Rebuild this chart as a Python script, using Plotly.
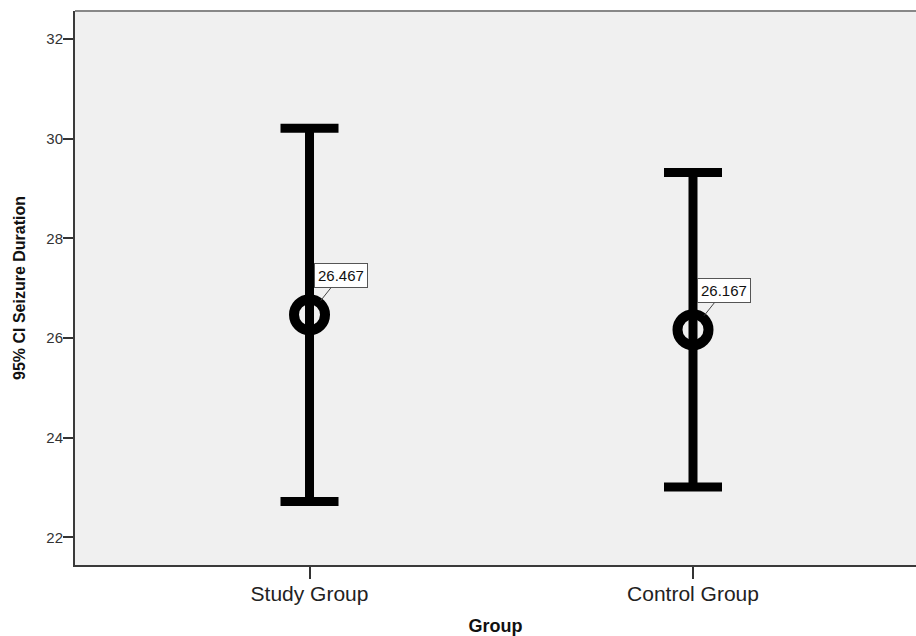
import plotly.graph_objects as go

# Group means and 95% confidence limits of seizure duration
groups = ["Study Group", "Control Group"]
means = [26.467, 26.167]
ci_lower = [22.72, 23.01]
ci_upper = [30.21, 29.32]
y_ticks = [22, 24, 26, 28, 30, 32]

xpos = list(range(len(groups)))
err_plus = [u - m for u, m in zip(ci_upper, means)]
err_minus = [m - l for m, l in zip(means, ci_lower)]

FONT = "Liberation Sans, Arial, sans-serif"

fig = go.Figure()
fig.add_trace(go.Scatter(
    x=xpos,
    y=means,
    mode="markers",
    marker=dict(symbol="circle-open", size=31, color="black",
                line=dict(width=10, color="black")),
    error_y=dict(type="data", symmetric=False, array=err_plus,
                 arrayminus=err_minus, thickness=9, width=29,
                 color="black"),
    showlegend=False,
    hoverinfo="skip",
))

# Value labels next to each mean
for x, m in zip(xpos, means):
    fig.add_annotation(
        x=x, y=m, text=f"{m:.3f}",
        showarrow=True, arrowhead=0, arrowwidth=1, arrowcolor="#444444",
        ax=31, ay=-39, standoff=18,
        bgcolor="white", bordercolor="#555555", borderwidth=1, borderpad=3,
        font=dict(family=FONT, size=15, color="#111111"),
    )

# Top frame line of the plot area
fig.add_shape(type="line", xref="paper", yref="paper", x0=0, x1=1, y0=1, y1=1,
              line=dict(color="#888888", width=2))

fig.update_layout(
    width=916, height=636,
    margin=dict(l=75, r=0, t=11, b=71),
    paper_bgcolor="white",
    plot_bgcolor="#f0f0f0",
    font=dict(family=FONT, color="#222222"),
    xaxis=dict(
        range=[-0.6115, 1.5815],
        tickvals=xpos, ticktext=groups,
        ticks="outside", ticklen=12, tickwidth=2, tickcolor="#333333",
        tickfont=dict(size=21, color="#222222"),
        ticklabelstandoff=-3,
        showline=True, linecolor="#3a3a3a", linewidth=2,
        showgrid=False, zeroline=False,
        title=dict(text="<b>Group</b>", font=dict(size=18, color="#111111"),
                   standoff=16),
    ),
    yaxis=dict(
        range=[21.444, 32.562],
        tickvals=y_ticks,
        ticks="outside", ticklen=10, tickwidth=2, tickcolor="#333333",
        tickfont=dict(size=15, color="#333333"),
        ticklabelstandoff=-3,
        showline=True, linecolor="#3a3a3a", linewidth=2,
        showgrid=False, zeroline=False,
        title=dict(text="<b>95% CI Seizure Duration</b>",
                   font=dict(size=16, color="#111111"), standoff=17),
    ),
)

fig.write_html("out.html")
